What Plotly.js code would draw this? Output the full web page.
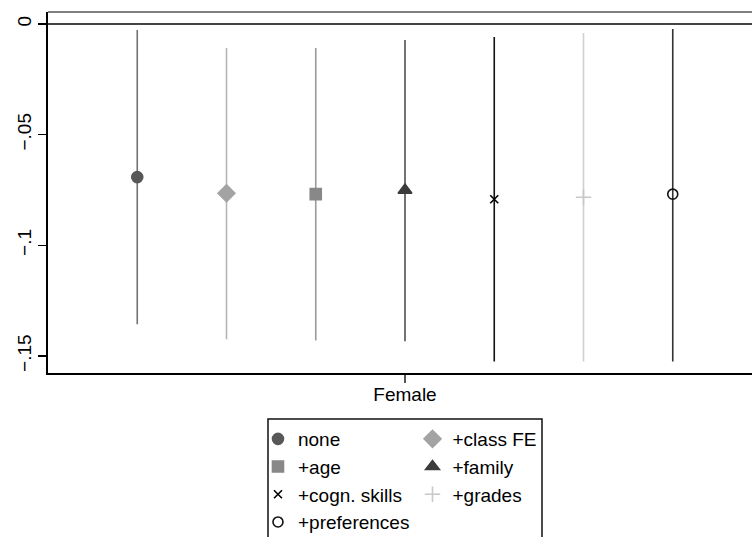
<!DOCTYPE html>
<html>
<head>
<meta charset="utf-8">
<script src="https://cdn.plot.ly/plotly-3.0.1.min.js"></script>
<style>
html,body{margin:0;padding:0;overflow:hidden;background:#fff;width:752px;height:537px;}
#chart{width:800px;height:600px;}
</style>
</head>
<body>
<div id="chart"></div>
<script>
// Data
var category = 'Female';
var models = ['none', '+class FE', '+age', '+family', '+cogn. skills', '+grades', '+preferences'];
var estimates = [-0.0692, -0.0765, -0.0769, -0.0751, -0.0792, -0.0783, -0.0769];
var ciLow = [-0.1357, -0.1425, -0.1430, -0.1434, -0.1525, -0.1525, -0.1525];
var ciHigh = [-0.0027, -0.0109, -0.0109, -0.0072, -0.0059, -0.0041, -0.0023];
var yTickVals = [0, -0.05, -0.1, -0.15];
var yTickText = ['0', '\u2212.05', '\u2212.1', '\u2212.15'];

// Styles
var markerSymbols = ['circle', 'diamond', 'square', 'triangle-up', 'x-thin-open', 'cross-thin-open', 'circle-open'];
var markerColors = ['#585858', '#a3a3a3', '#888888', '#3c3c3c', '#000000', '#c8c8c8', '#111111'];
var markerSizes = [11, 13, 11, 12, 8, 11, 10];
var lineColors = ['#727272', '#b5b5b5', '#9a9a9a', '#505050', '#111111', '#d0d0d0', '#333333'];
var legendIds = ['legend', 'legend2', 'legend', 'legend2', 'legend', 'legend2', 'legend'];

var font = 'Liberation Sans, Arial, Helvetica, sans-serif';
var traces = models.map(function (m, i) {
  return {
    type: 'scatter',
    mode: 'markers',
    name: m,
    x: [i - (models.length - 1) / 2],
    y: [estimates[i]],
    legend: legendIds[i],
    marker: {
      symbol: markerSymbols[i],
      color: markerColors[i],
      size: markerSizes[i],
      line: {color: markerColors[i], width: 1.6}
    },
    error_y: {
      type: 'data',
      symmetric: false,
      array: [ciHigh[i] - estimates[i]],
      arrayminus: [estimates[i] - ciLow[i]],
      width: 0,
      thickness: 1.6,
      color: lineColors[i]
    },
    hoverinfo: 'name+y'
  };
});

var layout = {
  width: 800,
  height: 600,
  margin: {l: 48, r: 38, t: 12, b: 227},
  paper_bgcolor: '#ffffff',
  plot_bgcolor: '#ffffff',
  font: {family: font, size: 19, color: '#000'},
  showlegend: true,
  xaxis: {
    range: [-4, 4],
    tickvals: [0],
    ticktext: [category],
    ticks: 'outside',
    ticklen: 8,
    tickwidth: 1.3,
    tickcolor: '#555',
    ticklabelstandoff: -4,
    showline: true,
    linecolor: '#000',
    linewidth: 1.6,
    showgrid: false,
    zeroline: false,
    fixedrange: true,
    tickfont: {family: font, size: 19, color: '#000'}
  },
  yaxis: {
    range: [-0.1577, 0.0054],
    tickvals: yTickVals,
    ticktext: yTickText,
    tickangle: -90,
    ticks: 'outside',
    ticklen: 8,
    tickwidth: 1.3,
    tickcolor: '#000',
    showline: true,
    linecolor: '#000',
    linewidth: 1.6,
    showgrid: false,
    zeroline: true,
    zerolinecolor: '#444',
    zerolinewidth: 1.6,
    fixedrange: true,
    tickfont: {family: font, size: 19, color: '#000'}
  },
  legend: {
    x: 0.2941, y: -0.1302, xanchor: 'left', yanchor: 'top',
    bgcolor: 'rgba(0,0,0,0)', borderwidth: 0,
    font: {family: font, size: 19, color: '#000'},
    tracegroupgap: 0
  },
  legend2: {
    x: 0.5105, y: -0.1302, xanchor: 'left', yanchor: 'top',
    bgcolor: 'rgba(0,0,0,0)', borderwidth: 0,
    font: {family: font, size: 19, color: '#000'},
    tracegroupgap: 0
  },
  shapes: [
    {type: 'line', xref: 'paper', yref: 'paper', x0: 0, x1: 1, y0: 1, y1: 1,
     line: {color: '#555', width: 1.6}},
    {type: 'rect', xref: 'paper', yref: 'paper', x0: 0.30812, x1: 0.69188, y0: -0.12742, y1: -0.7,
     line: {color: '#111', width: 1.5}, fillcolor: 'rgba(0,0,0,0)'}
  ]
};

Plotly.newPlot('chart', traces, layout, {displayModeBar: false, staticPlot: true});
</script>
</body>
</html>
